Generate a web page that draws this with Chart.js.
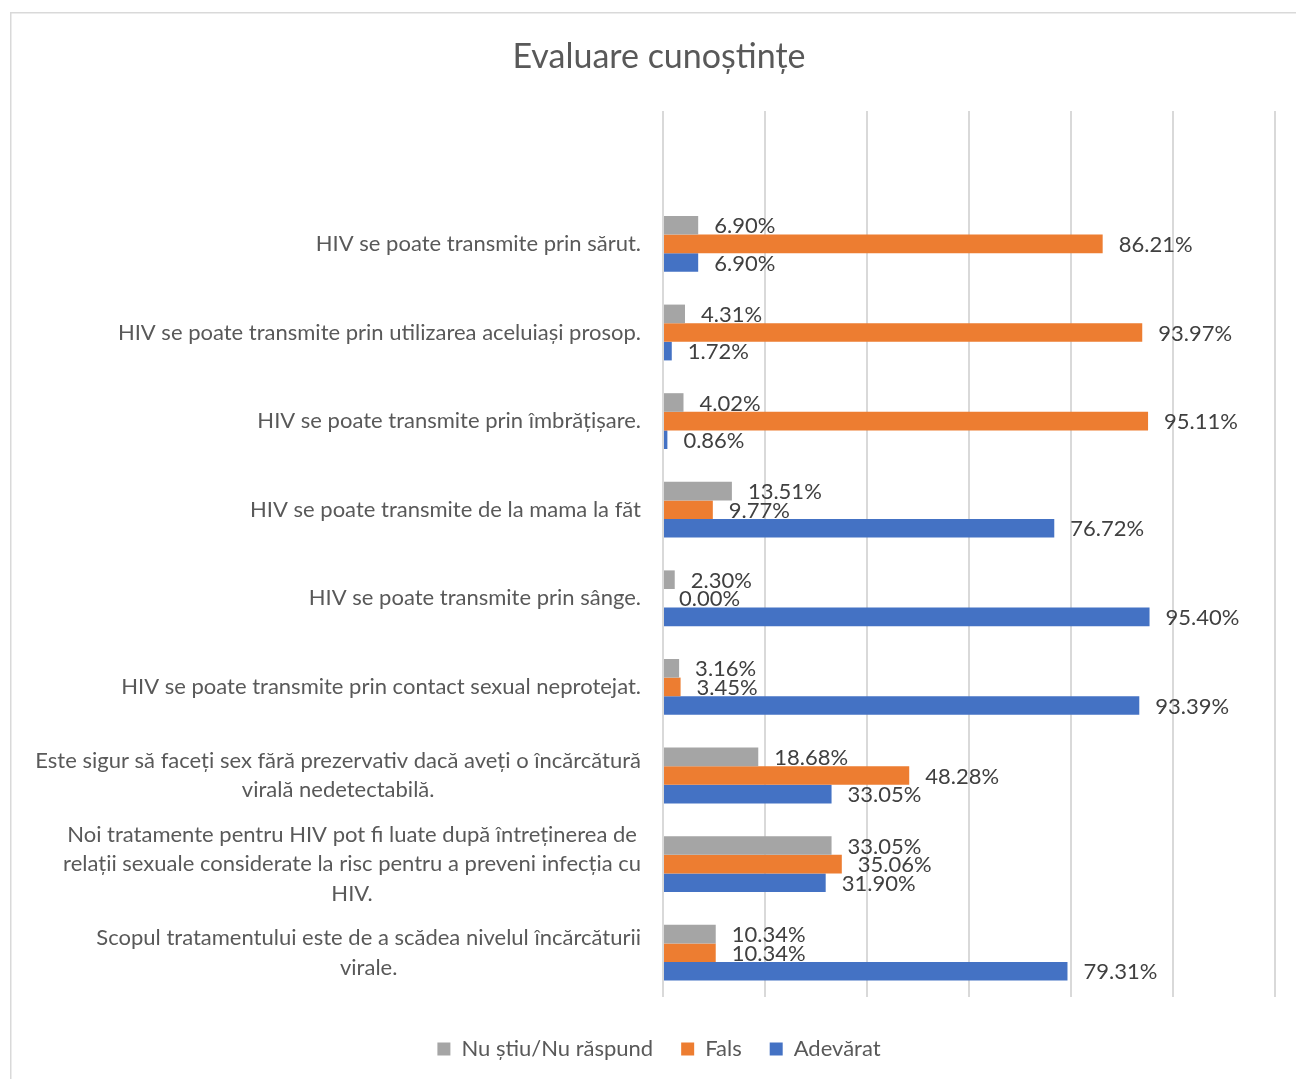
<!DOCTYPE html>
<html>
<head>
<meta charset="utf-8">
<script src="https://cdn.jsdelivr.net/npm/chart.js@4.4.0/dist/chart.umd.min.js"></script>
<style>
  html, body { margin: 0; padding: 0; background: #ffffff; }
  #wrap { width: 1296px; height: 1079px; position: relative; }
</style>
</head>
<body>
<div id="wrap"><canvas id="c" width="1296" height="1079"></canvas></div>
<script>
const chartTitle = 'Evaluare cunoștințe';
const seriesNames = ['Nu știu/Nu răspund', 'Fals', 'Adevărat'];
const seriesColors = ['#a5a5a5', '#ed7d31', '#4472c4'];
const categories = [
  ['HIV se poate transmite prin sărut.'],
  ['HIV se poate transmite prin utilizarea aceluiași prosop.'],
  ['HIV se poate transmite prin îmbrățișare.'],
  ['HIV se poate transmite de la mama la făt'],
  ['HIV se poate transmite prin sânge.'],
  ['HIV se poate transmite prin contact sexual neprotejat.'],
  ['Este sigur să faceți sex fără prezervativ dacă aveți o încărcătură', 'virală nedetectabilă.'],
  ['Noi tratamente pentru HIV pot fi luate după întreținerea de', 'relații sexuale considerate la risc pentru a preveni infecția cu', 'HIV.'],
  ['Scopul tratamentului este de a scădea nivelul încărcăturii', 'virale.']
];
const nuStiu   = [6.90, 4.31, 4.02, 13.51, 2.30, 3.16, 18.68, 33.05, 10.34];
const fals     = [86.21, 93.97, 95.11, 9.77, 0.00, 3.45, 48.28, 35.06, 10.34];
const adevarat = [6.90, 1.72, 0.86, 76.72, 95.40, 93.39, 33.05, 31.90, 79.31];
const xTicks = [0, 20, 40, 60, 80, 100, 120];

const FONT = 'Lato';
const seriesValues = [nuStiu, fals, adevarat];

const framePlugin = {
  id: 'frame',
  beforeDraw(chart) {
    const ctx = chart.ctx;
    ctx.save();
    ctx.fillStyle = '#ffffff';
    ctx.fillRect(0, 0, chart.width, chart.height);
    ctx.strokeStyle = '#d9d9d9';
    ctx.lineWidth = 1.5;
    ctx.strokeRect(10.75, 12.75, 3000, 3000);
    ctx.restore();
  }
};

const categoryLabelPlugin = {
  id: 'catLabels',
  afterDraw(chart) {
    const ctx = chart.ctx;
    const yScale = chart.scales.y;
    const right = chart.chartArea.left - 22;
    const lh = 29.5;
    ctx.save();
    ctx.font = '22px ' + FONT;
    ctx.fillStyle = '#595959';
    ctx.textAlign = 'center';
    ctx.textBaseline = 'middle';
    chart.data.labels.forEach((lines, i) => {
      if (!lines || !lines.length) return;
      const maxW = Math.max(...lines.map(l => ctx.measureText(l).width));
      const cx = right - maxW / 2;
      const cy = yScale.getPixelForValue(i);
      const top = cy - (lines.length - 1) * lh / 2;
      lines.forEach((l, k) => ctx.fillText(l, cx, top + k * lh));
    });
    ctx.restore();
  }
};

const valueLabelPlugin = {
  id: 'valueLabels',
  afterDatasetsDraw(chart) {
    const ctx = chart.ctx;
    ctx.save();
    ctx.font = '22px ' + FONT;
    ctx.fillStyle = '#404040';
    ctx.textAlign = 'left';
    ctx.textBaseline = 'middle';
    chart.data.datasets.forEach((ds, di) => {
      const meta = chart.getDatasetMeta(di);
      meta.data.forEach((bar, i) => {
        const v = ds.data[i];
        if (v === null || v === undefined) return;
        ctx.fillText(v.toFixed(2) + '%', bar.x + 16, bar.y + 1);
      });
    });
    ctx.restore();
  }
};

const labels = [[]].concat(categories);

new Chart(document.getElementById('c'), {
  type: 'bar',
  data: {
    labels: labels,
    datasets: seriesNames.map((name, si) => ({
      label: name,
      data: [null].concat(seriesValues[si]),
      backgroundColor: seriesColors[si],
      borderWidth: 0,
      categoryPercentage: 0.63,
      barPercentage: 1.0
    }))
  },
  options: {
    indexAxis: 'y',
    responsive: false,
    animation: false,
    devicePixelRatio: 1,
    layout: { padding: { left: 22, right: 0, top: 0, bottom: 9 } },
    scales: {
      x: {
        type: 'linear',
        position: 'bottom',
        min: xTicks[0],
        max: xTicks[xTicks.length - 1],
        afterBuildTicks(scale) { scale.ticks = xTicks.map(v => ({ value: v })); },
        ticks: { display: false },
        grid: { color: '#d9d9d9', lineWidth: 2, drawTicks: false },
        border: { display: false },
        afterFit(scale) { scale.height = 13; }
      },
      y: {
        type: 'category',
        position: 'left',
        ticks: { display: false },
        grid: { display: false, drawTicks: false },
        border: { display: false },
        afterFit(scale) { scale.width = 641; }
      },
      yr: {
        type: 'linear',
        position: 'right',
        display: true,
        ticks: { display: false },
        grid: { display: false, drawTicks: false },
        border: { display: false },
        afterFit(scale) { scale.width = 21; }
      }
    },
    plugins: {
      title: {
        display: true,
        text: chartTitle,
        color: '#595959',
        font: { family: FONT, size: 34, weight: 'normal' },
        padding: { top: 36.6, bottom: 33.6 }
      },
      legend: {
        display: true,
        position: 'bottom',
        labels: {
          color: '#595959',
          font: { family: FONT, size: 22 },
          boxWidth: 13,
          boxHeight: 13,
          padding: 28
        }
      },
      tooltip: { enabled: false }
    }
  },
  plugins: [framePlugin, categoryLabelPlugin, valueLabelPlugin]
});
</script>
</body>
</html>
